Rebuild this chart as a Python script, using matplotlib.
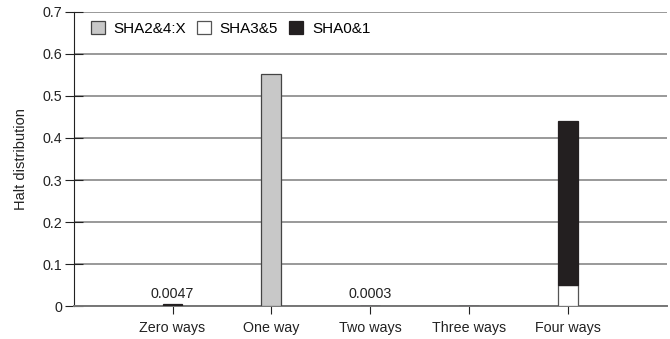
import numpy as np
import matplotlib
matplotlib.use("Agg")
from matplotlib import pyplot as plt

plt.rcParams['font.family'] = ['Liberation Sans', 'DejaVu Sans']

categories = ["Zero ways", "One way", "Two ways", "Three ways", "Four ways"]
sha24 = [0.0, 0.552, 0.0, 0.0, 0.0]
sha35 = [0.0, 0.0, 0.0, 0.0, 0.05]
sha01 = [0.0047, 0.0, 0.0003, 0.0008, 0.39]
value_labels = {0: "0.0047", 2: "0.0003"}

x = np.arange(len(categories))
w = 0.2


def stacked(ax, vals, bottoms, **kw):
    # only draw segments that actually have height
    vals = np.asarray(vals)
    keep = vals > 0
    h = ax.bar(x[keep], vals[keep], w, bottom=np.asarray(bottoms)[keep], **kw)
    return h


fig, ax = plt.subplots(figsize=(6.7, 3.39), dpi=100)
fig.subplots_adjust(left=0.11, right=0.995, top=0.965, bottom=0.097)

b0 = np.zeros(len(x))
stacked(ax, sha24, b0, color="#c8c8c8", edgecolor="#444444", linewidth=0.9,
        label="SHA2&4:X", zorder=3)
b1 = b0 + np.array(sha24)
stacked(ax, sha35, b1, color="white", edgecolor="#555555", linewidth=0.9,
        label="SHA3&5", zorder=3)
b2 = b1 + np.array(sha35)
stacked(ax, sha01, b2, color="#231f20", edgecolor="#231f20", linewidth=0.9,
        label="SHA0&1", zorder=3)

for i, txt in value_labels.items():
    ax.text(x[i], 0.012, txt, ha="center", va="bottom", fontsize=10.3,
            color="#222222")

ax.set_xlim(-1, 5)
ax.set_ylim(0, 0.7)
ax.set_yticks(np.arange(0, 0.71, 0.1))
ax.set_yticklabels(["0", "0.1", "0.2", "0.3", "0.4", "0.5", "0.6", "0.7"])
ax.set_xticks(x)
ax.set_xticklabels(categories)
ax.tick_params(axis="both", labelsize=10.3, width=0.8, colors="#222222")
ax.tick_params(axis="y", direction="inout", length=13, pad=2)
ax.tick_params(axis="x", direction="out", length=6, pad=5)
ax.set_ylabel("Halt distribution", fontsize=10.5, labelpad=10,
              color="#222222")

ax.yaxis.grid(True, color="#999999", linewidth=1.4, zorder=0)
ax.set_axisbelow(True)
for s in ["top", "right"]:
    ax.spines[s].set_visible(False)
ax.spines["bottom"].set_color("#777777")
ax.spines["bottom"].set_linewidth(1.4)
ax.spines["left"].set_color("#222222")

ax.legend(loc="upper left", ncol=3, frameon=False, fontsize=11,
          handlelength=0.92, handleheight=0.92, columnspacing=0.75,
          handletextpad=0.55, borderaxespad=0.2,
          bbox_to_anchor=(0.013, 1.0))

plt.savefig("out.png", dpi=100)
